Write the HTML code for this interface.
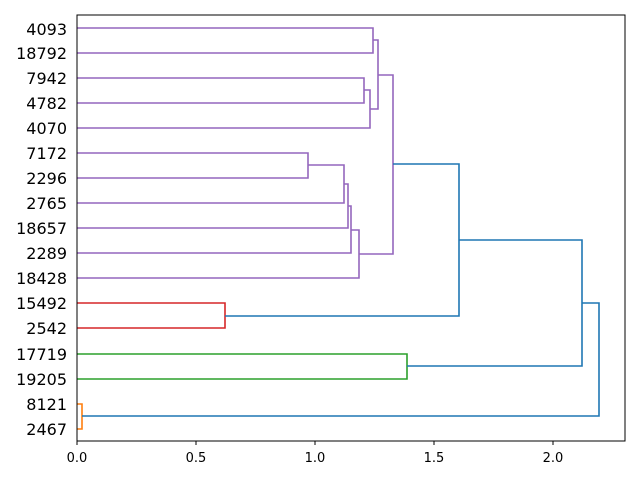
<!DOCTYPE html>
<html><head><style>body{margin:0;background:#fff}</style></head><body>
<svg width="640" height="480" xmlns="http://www.w3.org/2000/svg" font-family="DejaVu Sans, sans-serif">
<rect width="640" height="480" fill="#fff"/>
<g fill="none" stroke-width="1.6">
<g stroke="#9467bd">
<path d="M77,28H373V53H77"/>
<path d="M373,40H378V109H370"/>
<path d="M77,78H364V103H77"/>
<path d="M364,90H370V128H77"/>
<path d="M378,75H393V254H359"/>
<path d="M77,153H308V178H77"/>
<path d="M308,165H344V203H77"/>
<path d="M344,184H348V228H77"/>
<path d="M348,206H351V253H77"/>
<path d="M351,230H359V278H77"/>
</g>
<path stroke="#d62728" d="M77,303H225V328H77"/>
<path stroke="#2ca02c" d="M77,354H407V379H77"/>
<path stroke="#ff7f0e" d="M77,404H82V429H77"/>
<g stroke="#1f77b4">
<path d="M393,164H459V316H225"/>
<path d="M459,240H582V366H407"/>
<path d="M582,303H599V416H82"/>
</g>
</g>
<rect x="77" y="15" width="548" height="426" fill="none" stroke="#000" stroke-width="1"/>
<g stroke="#000">
<path d="M77,441v4M196,441v4M315,441v4M434,441v4M553,441v4"/>
</g>
<g font-size="13" text-anchor="middle" fill="#000">
<text x="77" y="462">0.0</text><text x="196" y="462">0.5</text><text x="315" y="462">1.0</text><text x="434" y="462">1.5</text><text x="553" y="462">2.0</text>
</g>
<g font-size="16" text-anchor="end" fill="#000">
<text x="67" y="35">4093</text><text x="67" y="59">18792</text><text x="67" y="84">7942</text><text x="67" y="109">4782</text><text x="67" y="134">4070</text><text x="67" y="159">7172</text><text x="67" y="184">2296</text><text x="67" y="209">2765</text><text x="67" y="234">18657</text><text x="67" y="259">2289</text><text x="67" y="284">18428</text><text x="67" y="309">15492</text><text x="67" y="334">2542</text><text x="67" y="360">17719</text><text x="67" y="385">19205</text><text x="67" y="410">8121</text><text x="67" y="435">2467</text>
</g>
</svg>
</body></html>
